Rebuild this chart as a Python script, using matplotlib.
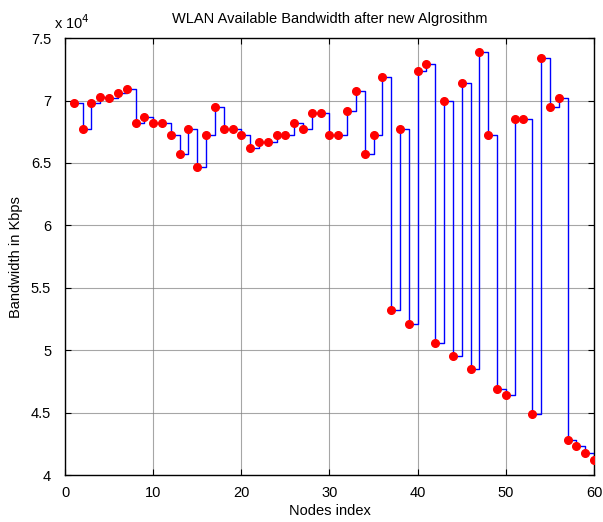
import numpy as np
import matplotlib
matplotlib.use("Agg")
import matplotlib.pyplot as plt
from matplotlib.ticker import FuncFormatter

plt.rcParams["font.family"] = ["Liberation Sans", "DejaVu Sans"]

# bandwidth per node, in units of 1e4 Kbps
nodes = np.arange(1, 61)
bandwidth = np.array([
    6.98, 6.77, 6.98, 7.03, 7.02, 7.06, 7.09, 6.82, 6.87, 6.82,
    6.82, 6.72, 6.57, 6.77, 6.47, 6.72, 6.95, 6.77, 6.77, 6.72,
    6.62, 6.67, 6.67, 6.72, 6.72, 6.82, 6.77, 6.90, 6.90, 6.72,
    6.72, 6.92, 7.08, 6.57, 6.72, 7.19, 5.32, 6.77, 5.21, 7.24,
    7.29, 5.06, 7.00, 4.95, 7.14, 4.85, 7.39, 6.72, 4.69, 4.64,
    6.85, 6.85, 4.49, 7.34, 6.95, 7.02, 4.28, 4.23, 4.18, 4.12,
]) * 1e4

x_ticks = [0, 10, 20, 30, 40, 50, 60]
y_ticks = np.arange(4.0, 7.51, 0.5) * 1e4

fig = plt.figure(figsize=(6.03, 5.22), dpi=100)
ax = fig.add_axes([0.1078, 0.090, 0.8772, 0.837])

ax.step(nodes, bandwidth, where="post", color="blue", lw=1.0, zorder=3)
ax.plot(nodes, bandwidth, "o", color="red", markersize=5.5, zorder=4)

ax.set_xlim(0, 60)
ax.set_ylim(4e4, 7.5e4)
ax.set_xticks(x_ticks)
ax.set_yticks(y_ticks)
ax.yaxis.set_major_formatter(FuncFormatter(lambda v, p: "%g" % (v / 1e4)))

ax.grid(True, color="#808080", linestyle="-", linewidth=0.8, alpha=0.7)
ax.tick_params(direction="in", top=True, right=True, labelsize=10.5,
               length=4, width=0.8)
ax.tick_params(axis="y", pad=10)
ax.tick_params(axis="x", pad=8)
for s in ax.spines.values():
    s.set_linewidth(1.0)

ax.text(-0.02, 1.015, r"x 10$^{4}$", transform=ax.transAxes, fontsize=10.5,
        ha="left", va="bottom")
ax.set_title("WLAN Available Bandwidth after new Algrosithm", fontsize=10.5, pad=11)
ax.set_xlabel("Nodes index", fontsize=10.5, labelpad=3)
ax.set_ylabel("Bandwidth in Kbps", fontsize=10.5, labelpad=6)

fig.savefig("out.png", dpi=100)
